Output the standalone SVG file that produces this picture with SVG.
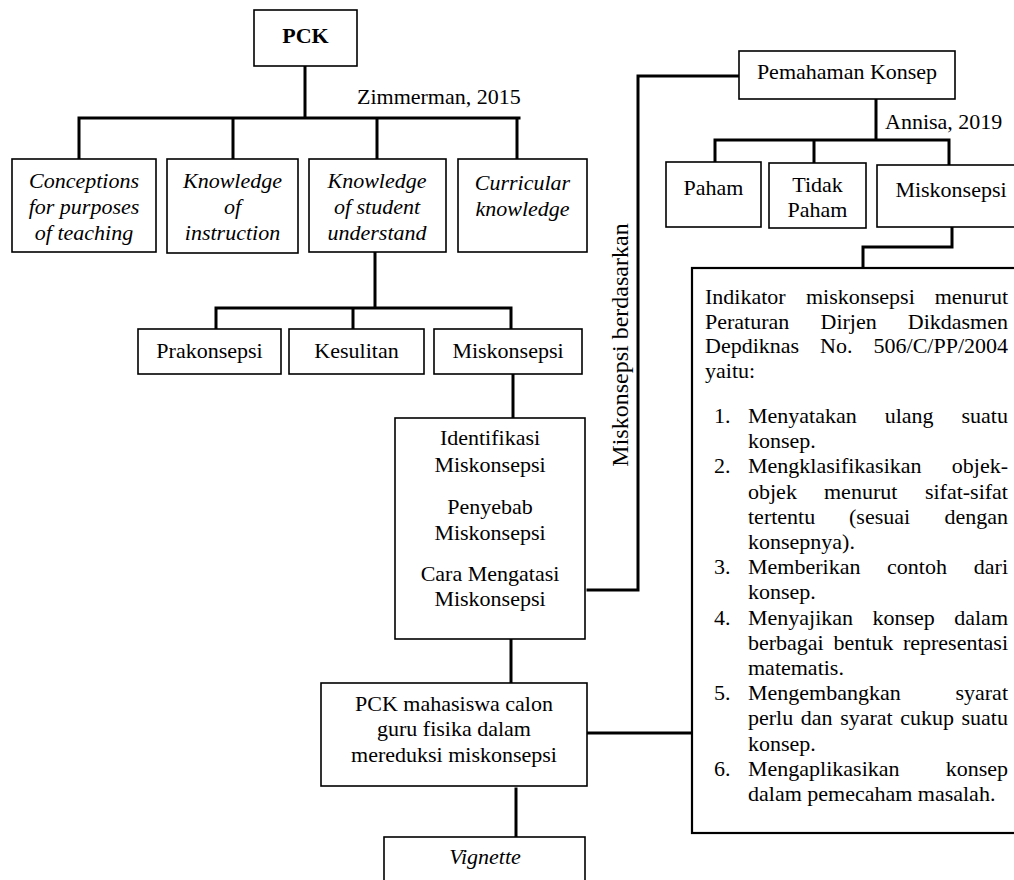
<svg xmlns="http://www.w3.org/2000/svg" width="1014" height="880" viewBox="0 0 1014 880">
<style>
text{font-family:"Liberation Serif","Times New Roman",serif;font-size:22px;fill:#000}
.c{text-anchor:middle}
.e{text-anchor:end}
.i{font-style:italic}
.b{font-weight:bold}
.box{fill:#fff;stroke:#000;stroke-width:1.6}
.big{fill:#fff;stroke:#000;stroke-width:2.2}
.ln{fill:none;stroke:#000;stroke-width:3;stroke-linecap:square}
</style>
<rect width="1014" height="880" fill="#fff"/>
<g id="connectors">
<path class="ln" d="M305,66 V118 M79,118 H519 M79,118 V159 M233,118 V159 M377,118 V159 M517,118 V159"/>
<path class="ln" d="M375,252 V308 M216,308 H511 M216,308 V329 M353,308 V329 M511,308 V329"/>
<path class="ln" d="M513,374 V418"/>
<path class="ln" d="M511,639 V683"/>
<path class="ln" d="M516,789 V837"/>
<path class="ln" d="M588,733 H692"/>
<path class="ln" d="M588,590 H638 V76 H739"/>
<path class="ln" d="M876,99 V140 M715,140 H948 M715,140 V162 M814,140 V163 M949,140 V165"/>
<path class="ln" d="M952,227 V247 H863 V268"/>
</g>
<text transform="translate(628,345) rotate(-90)" class="c" style="font-size:24px">Miskonsepsi berdasarkan</text>
<text x="357" y="104">Zimmerman, 2015</text>
<text x="885" y="129">Annisa, 2019</text>
<g id="pck">
<rect class="box" x="254" y="10" width="103" height="56"/>
<text x="305.5" y="43" class="c b">PCK</text>
</g>
<g id="conceptions">
<rect class="box" x="12" y="159" width="144" height="93"/>
<text class="c i" x="84" y="188">Conceptions</text>
<text class="c i" x="84" y="214">for purposes</text>
<text class="c i" x="84" y="240">of teaching</text>
</g>
<g id="instruction">
<rect class="box" x="167" y="159" width="131" height="94"/>
<text class="c i" x="232.5" y="188">Knowledge</text>
<text class="c i" x="232.5" y="214">of</text>
<text class="c i" x="232.5" y="240">instruction</text>
</g>
<g id="student">
<rect class="box" x="309" y="159" width="137" height="93"/>
<text class="c i" x="377" y="188">Knowledge</text>
<text class="c i" x="377" y="214">of student</text>
<text class="c i" x="377" y="240">understand</text>
</g>
<g id="curricular">
<rect class="box" x="458" y="159" width="129" height="93"/>
<text class="c i" x="522.5" y="190">Curricular</text>
<text class="c i" x="522.5" y="216">knowledge</text>
</g>
<g id="prakonsepsi">
<rect class="box" x="138" y="329" width="143" height="45"/>
<text class="c" x="209.5" y="358">Prakonsepsi</text>
</g>
<g id="kesulitan">
<rect class="box" x="289" y="329" width="135" height="45"/>
<text class="c" x="356.5" y="358">Kesulitan</text>
</g>
<g id="miskonsepsi1">
<rect class="box" x="434" y="329" width="148" height="45"/>
<text class="c" x="508" y="358">Miskonsepsi</text>
</g>
<g id="identifikasi">
<rect class="box" x="395" y="418" width="190" height="221"/>
<text class="c" x="490" y="445">Identifikasi</text>
<text class="c" x="490" y="472">Miskonsepsi</text>
<text class="c" x="490" y="514">Penyebab</text>
<text class="c" x="490" y="540">Miskonsepsi</text>
<text class="c" x="490" y="581">Cara Mengatasi</text>
<text class="c" x="490" y="606">Miskonsepsi</text>
</g>
<g id="pckmahasiswa">
<rect class="box" x="321" y="683" width="266" height="103"/>
<text class="c" x="454" y="711">PCK mahasiswa calon</text>
<text class="c" x="454" y="736">guru fisika dalam</text>
<text class="c" x="454" y="762">mereduksi miskonsepsi</text>
</g>
<g id="vignette">
<rect class="box" x="384" y="837" width="201" height="60"/>
<text class="c i" x="485" y="864">Vignette</text>
</g>
<g id="pemahaman">
<rect class="box" x="739" y="51" width="216" height="48"/>
<text class="c" x="847" y="79">Pemahaman Konsep</text>
</g>
<g id="paham">
<rect class="box" x="666" y="162" width="95" height="65"/>
<text class="c" x="713.5" y="195">Paham</text>
</g>
<g id="tidakpaham">
<rect class="box" x="769" y="163" width="97" height="65"/>
<text class="c" x="817.5" y="192">Tidak</text>
<text class="c" x="817.5" y="217">Paham</text>
</g>
<g id="miskonsepsi2">
<rect class="box" x="877" y="165" width="150" height="62"/>
<text class="c" x="951" y="197">Miskonsepsi</text>
</g>
<g id="indikator">
<rect class="big" x="692" y="268" width="340" height="565"/>
<text y="304"><tspan x="705">Indikator</tspan><tspan x="806">miskonsepsi</tspan></text><text class="e" x="1008" y="304">menurut</text>
<text y="329"><tspan x="705">Peraturan</tspan><tspan x="820.5">Dirjen</tspan></text><text class="e" x="1008" y="329">Dikdasmen</text>
<text y="353"><tspan x="705">Depdiknas</tspan><tspan x="820">No.</tspan></text><text class="e" x="1008" y="353">506/C/PP/2004</text>
<text x="705" y="378">yaitu:</text>
<text y="423"><tspan x="714">1.</tspan><tspan x="748">Menyatakan</tspan><tspan x="884.7">ulang</tspan></text><text class="e" x="1008" y="423">suatu</text>
<text x="748" y="448">konsep.</text>
<text y="473"><tspan x="714">2.</tspan><tspan x="748">Mengklasifikasikan</tspan></text><text class="e" x="1008" y="473">objek-</text>
<text y="498.6"><tspan x="748">objek</tspan><tspan x="824">menurut</tspan></text><text class="e" x="1008" y="498.6">sifat-sifat</text>
<text y="524"><tspan x="748">tertentu</tspan><tspan x="849">(sesuai</tspan></text><text class="e" x="1008" y="524">dengan</text>
<text x="748" y="549">konsepnya).</text>
<text y="574"><tspan x="714">3.</tspan><tspan x="748">Memberikan</tspan><tspan x="887">contoh</tspan></text><text class="e" x="1008" y="574">dari</text>
<text x="748" y="599.4">konsep.</text>
<text y="624.6"><tspan x="714">4.</tspan><tspan x="748">Menyajikan</tspan><tspan x="872.5">konsep</tspan></text><text class="e" x="1008" y="624.6">dalam</text>
<text y="650"><tspan x="748">berbagai</tspan><tspan x="833.4">bentuk</tspan></text><text class="e" x="1008" y="650">representasi</text>
<text x="748" y="675">matematis.</text>
<text y="700"><tspan x="714">5.</tspan><tspan x="748">Mengembangkan</tspan></text><text class="e" x="1008" y="700">syarat</text>
<text y="725.4"><tspan x="748">perlu</tspan><tspan x="800.8">dan</tspan><tspan x="840.2">syarat</tspan><tspan x="900.3">cukup</tspan></text><text class="e" x="1008" y="725.4">suatu</text>
<text x="748" y="750.6">konsep.</text>
<text y="776"><tspan x="714">6.</tspan><tspan x="748">Mengaplikasikan</tspan></text><text class="e" x="1008" y="776">konsep</text>
<text x="748" y="801">dalam pemecaham masalah.</text>
</g>
</svg>
